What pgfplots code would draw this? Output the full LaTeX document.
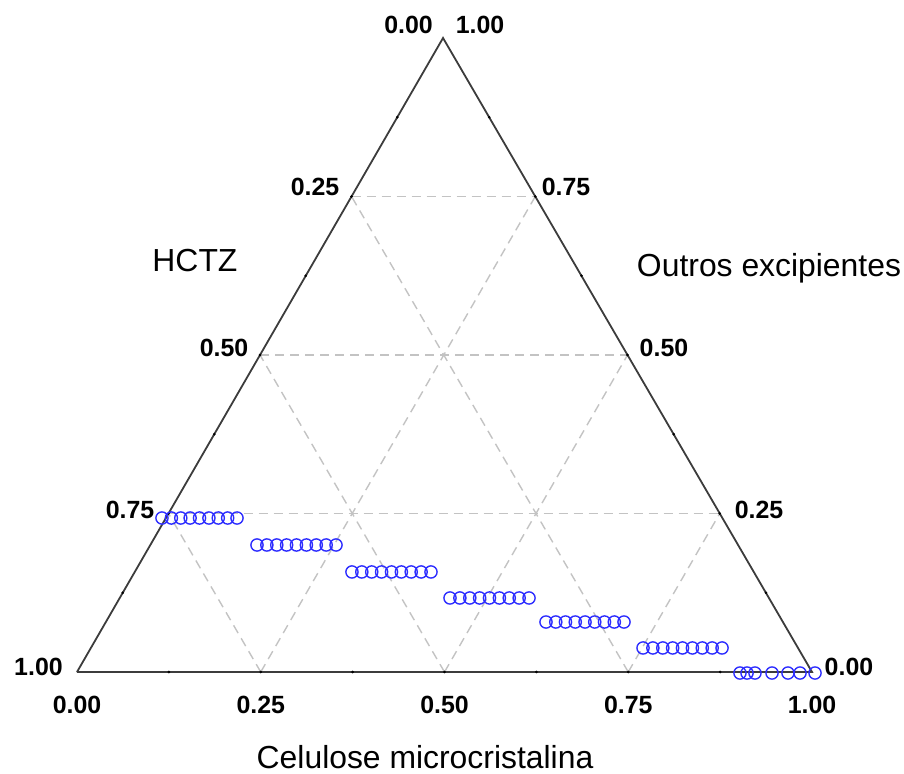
\documentclass[border=0pt]{standalone}
\usepackage{fontspec}
\setmainfont{Liberation Sans}
\usepackage{pgfplots}
\pgfplotsset{compat=1.18}
\definecolor{ptblue}{RGB}{45,45,255}
\definecolor{gridgray}{RGB}{195,195,195}
\definecolor{edgegray}{RGB}{60,60,60}
\tikzset{
  lbl/.style={font=\bfseries\fontsize{25}{28}\selectfont, anchor=center, inner sep=0pt},
  ttl/.style={font=\fontsize{32}{36}\selectfont, anchor=center, inner sep=0pt},
  grd/.style={gridgray, line width=1.4bp, dash pattern=on 9bp off 6bp},
}
\begin{document}
\begin{tikzpicture}
\begin{axis}[
  name=tern,
  scale only axis, width=904bp, height=774bp,
  xmin=-0.10476, xmax=1.12517, ymin=-0.13878, ymax=0.91429,
  axis lines=none, clip=false,
]
% dashed reference grid at 0.25, 0.50, 0.75
\addplot[grd] coordinates {(0.1245,0.21565) (0.8745,0.21565)};
\addplot[grd] coordinates {(0.2490,0.4313) (0.7490,0.4313)};
\addplot[grd] coordinates {(0.3735,0.64695) (0.6235,0.64695)};
\addplot[grd] coordinates {(0.25,0) (0.6235,0.64695)};
\addplot[grd] coordinates {(0.50,0) (0.7490,0.4313)};
\addplot[grd] coordinates {(0.75,0) (0.8745,0.21565)};
\addplot[grd] coordinates {(0.25,0) (0.1245,0.21565)};
\addplot[grd] coordinates {(0.50,0) (0.2490,0.4313)};
\addplot[grd] coordinates {(0.75,0) (0.3735,0.64695)};
% triangle frame
\addplot[edgegray, line width=1.8bp] coordinates {(0,0) (1,0) (0.498,0.8626) (0,0)};
% small tick marks along the edges
\addplot[only marks, mark=*, mark size=1.1bp, black] coordinates {
 (0.125,0) (0.25,0) (0.375,0) (0.5,0) (0.625,0) (0.75,0) (0.875,0)
 (0.06225,0.107825) (0.1245,0.21565) (0.18675,0.323475) (0.249,0.4313) (0.31125,0.539125) (0.3735,0.64695) (0.43575,0.754775)
 (0.93725,0.107825) (0.8745,0.21565) (0.81175,0.323475) (0.749,0.4313) (0.68625,0.539125) (0.6235,0.64695) (0.56075,0.754775)
};
% experimental points
\addplot[only marks, mark=o, mark size=6.1bp, ptblue, line width=1.4bp] coordinates {
 (0.1156,0.2095) (0.1284,0.2095) (0.1412,0.2095) (0.1539,0.2095) (0.1667,0.2095) (0.1795,0.2095) (0.1922,0.2095) (0.2050,0.2095) (0.2177,0.2095)
 (0.2449,0.1728) (0.2583,0.1728) (0.2718,0.1728) (0.2852,0.1728) (0.2986,0.1728) (0.3121,0.1728) (0.3255,0.1728) (0.3390,0.1728) (0.3524,0.1728)
 (0.3741,0.1361) (0.3875,0.1361) (0.4010,0.1361) (0.4144,0.1361) (0.4279,0.1361) (0.4413,0.1361) (0.4547,0.1361) (0.4682,0.1361) (0.4816,0.1361)
 (0.5075,0.1007) (0.5209,0.1007) (0.5344,0.1007) (0.5478,0.1007) (0.5612,0.1007) (0.5747,0.1007) (0.5881,0.1007) (0.6016,0.1007) (0.6150,0.1007)
 (0.6381,0.0680) (0.6514,0.0680) (0.6646,0.0680) (0.6779,0.0680) (0.6912,0.0680) (0.7044,0.0680) (0.7177,0.0680) (0.7310,0.0680) (0.7442,0.0680)
 (0.7701,0.0327) (0.7835,0.0327) (0.7970,0.0327) (0.8104,0.0327) (0.8238,0.0327) (0.8373,0.0327) (0.8507,0.0327) (0.8642,0.0327) (0.8776,0.0327)
 (0.9020,-0.0014) (0.9116,-0.0014) (0.9224,-0.0014) (0.9456,-0.0014) (0.9673,-0.0014) (0.9837,-0.0014) (1.0041,-0.0014)
};
% edge scale labels
\node[lbl] at (axis cs:0,-0.0449) {0.00};
\node[lbl] at (axis cs:0.25,-0.0449) {0.25};
\node[lbl] at (axis cs:0.50,-0.0449) {0.50};
\node[lbl] at (axis cs:0.75,-0.0449) {0.75};
\node[lbl] at (axis cs:1.00,-0.0449) {1.00};
\node[lbl] at (axis cs:0.4510,0.8803) {0.00};
\node[lbl] at (axis cs:0.3238,0.6599) {0.25};
\node[lbl] at (axis cs:0.2000,0.4408) {0.50};
\node[lbl] at (axis cs:0.0721,0.2204) {0.75};
\node[lbl] at (axis cs:-0.0524,0.0068) {1.00};
\node[lbl] at (axis cs:0.5483,0.8803) {1.00};
\node[lbl] at (axis cs:0.6653,0.6599) {0.75};
\node[lbl] at (axis cs:0.7986,0.4408) {0.50};
\node[lbl] at (axis cs:0.9279,0.2204) {0.25};
\node[lbl] at (axis cs:1.0503,0.0068) {0.00};
% component names
\node[ttl] at (axis cs:0.1605,0.5605) {HCTZ};
\node[ttl] at (axis cs:0.9415,0.5497) {Outros excipientes};
\node[ttl] at (axis cs:0.4735,-0.1156) {Celulose microcristalina};
\end{axis}
\pgfresetboundingbox
\useasboundingbox (tern.south west) rectangle (tern.north east);
\end{tikzpicture}
\end{document}
